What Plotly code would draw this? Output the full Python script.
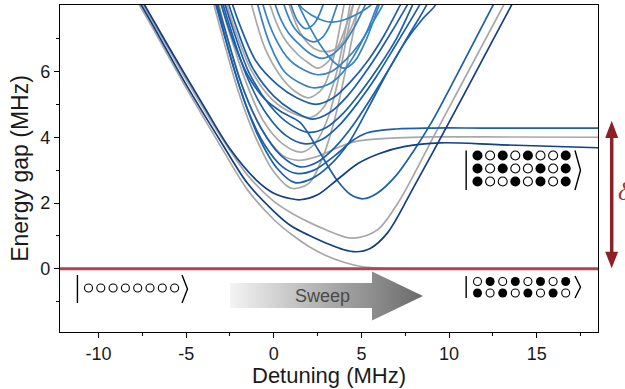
import plotly.graph_objects as go

# ---------------------------------------------------------------------------
# Spectrum of the lowest excitation gaps vs. detuning (MHz)
# each curve: (detuning points, gap points)
# ---------------------------------------------------------------------------

# single-excitation branch entering from the upper left
bundle_gray = [
    ([-8.3, -7.0, -5.0, -3.0, -1.5, 0.0, 1.0, 2.0, 3.0, 4.0, 5.0, 6.0, 7.5, 10.0, 18.5],
     [8.6, 7.4, 5.5, 3.7, 2.4, 1.5, 1.05, 0.68, 0.4, 0.2, 0.07, 0.02, 0.0, 0.0, 0.0]),
    ([-8.1, -7.0, -5.0, -3.0, -1.5, 0.0, 1.0, 2.0, 3.0, 4.3, 5.2, 6.0, 7.2, 9.0, 11.0, 13.6],
     [8.6, 7.6, 5.75, 4.0, 2.85, 2.05, 1.7, 1.42, 1.18, 0.94, 1.0, 1.22, 2.1, 3.9, 5.9, 8.5]),
]
bundle_blue = [
    ([-8.2, -7.0, -5.0, -3.0, -1.5, 0.0, 1.0, 2.0, 3.0, 4.0, 4.7, 5.5, 6.5, 8.0, 10.0, 12.0, 14.0],
     [8.6, 7.5, 5.6, 3.85, 2.6, 1.75, 1.3, 1.02, 0.78, 0.58, 0.52, 0.62, 1.1, 2.5, 4.45, 6.45, 8.45]),
    ([-8.0, -6.0, -4.0, -2.5, -1.0, 0.0, 1.0, 1.5, 2.5, 3.6, 4.8, 6.0, 7.5, 9.5, 13.0, 18.5],
     [8.6, 6.75, 4.95, 3.65, 2.7, 2.3, 2.13, 2.1, 2.25, 2.7, 3.2, 3.5, 3.72, 3.83, 3.77, 3.68]),
]

# lower part of the multi-excitation manifold
manifold_blue = [
    # dips to 2.1 near 5 MHz, then climbs steeply
    ([-3.3, -2.5, -1.5, -0.5, 0.5, 1.5, 2.5, 3.6, 4.4, 5.1, 5.9, 7.0, 8.0, 9.0, 10.5, 12.5, 13.2],
     [8.6, 7.2, 5.9, 5.15, 4.75, 4.45, 3.65, 2.7, 2.25, 2.13, 2.3, 2.85, 3.6, 4.45, 5.95, 8.0, 8.7]),
    # levels off at 4.3 MHz
    ([-3.5, -2.5, -1.5, -0.5, 0.5, 1.3, 2.3, 3.5, 4.5, 5.3, 7.0, 9.0, 12.0, 18.5],
     [8.6, 6.5, 4.85, 3.75, 3.1, 2.9, 3.0, 3.45, 3.9, 4.13, 4.25, 4.28, 4.28, 4.28]),
    ([-3.6, -2.9, -1.9, -0.9, 0.2, 1.2, 2.2, 3.2, 4.3, 5.3, 6.4, 7.5, 8.5, 9.2, 9.6],
     [8.6, 7.25, 5.45, 4.05, 3.05, 2.62, 2.75, 3.15, 3.85, 4.8, 5.9, 6.9, 7.6, 8.0, 8.5]),
    ([-3.5, -2.8, -1.8, -0.7, 0.4, 1.5, 2.5, 3.5, 4.5, 5.5, 6.6, 7.7, 8.7, 9.1],
     [8.6, 7.3, 5.55, 4.25, 3.45, 3.1, 3.25, 3.7, 4.35, 5.15, 6.1, 7.1, 8.0, 8.5]),
    ([-3.2, -2.5, -1.5, -0.4, 0.7, 1.8, 2.8, 3.8, 4.8, 5.8, 6.9, 8.3, 8.7],
     [8.6, 7.35, 5.8, 4.7, 4.05, 3.8, 3.95, 4.4, 5.05, 5.8, 6.75, 8.0, 8.4]),
    ([-3.1, -2.4, -1.4, -0.2, 0.9, 2.0, 3.0, 4.0, 5.0, 6.0, 7.0, 7.9, 8.3],
     [8.6, 7.4, 5.95, 4.95, 4.4, 4.15, 4.3, 4.75, 5.4, 6.15, 7.0, 8.0, 8.5]),
    ([-2.9, -2.2, -1.2, 0.0, 1.1, 2.2, 3.2, 4.2, 5.2, 6.2, 7.6, 8.0],
     [8.6, 7.45, 6.1, 5.25, 4.8, 4.55, 4.75, 5.25, 5.95, 6.75, 8.0, 8.4]),
    ([-2.7, -2.0, -1.0, 0.2, 1.3, 2.4, 3.4, 4.4, 5.4, 6.3, 7.2, 7.6],
     [8.6, 7.5, 6.3, 5.6, 5.2, 5.0, 5.2, 5.7, 6.35, 7.1, 8.0, 8.4]),
]
manifold_gray = [
    # levels off at 4.0 MHz
    ([-3.4, -2.4, -1.4, -0.4, 0.5, 1.4, 2.5, 3.5, 4.5, 5.3, 7.0, 9.0, 12.0, 18.5],
     [8.6, 6.55, 5.0, 4.0, 3.45, 3.3, 3.42, 3.65, 3.85, 3.92, 3.98, 4.01, 4.01, 4.0]),
    ([-3.7, -3.0, -2.0, -1.0, 0.0, 1.0, 2.0, 2.8, 3.5, 4.2, 4.8],
     [8.6, 7.2, 5.35, 3.95, 2.95, 2.45, 2.6, 3.4, 4.6, 6.3, 7.9]),
    ([-3.3, -2.6, -1.6, -0.6, 0.5, 1.6, 2.4, 3.1, 3.7, 4.4, 4.8],
     [8.6, 7.3, 5.7, 4.5, 3.8, 3.55, 3.85, 4.6, 5.8, 7.7, 8.6]),
    ([-3.0, -2.3, -1.3, -0.1, 1.0, 2.1, 2.9, 3.5, 4.0, 4.4],
     [8.6, 7.4, 6.05, 5.15, 4.75, 4.6, 4.95, 5.8, 7.0, 8.2]),
]

# upper part of the manifold (small arcs near the top)
upper_blue = [
    ([-1.1, -0.9, -0.2, 0.6, 1.5, 2.3, 3.1, 3.9, 4.6, 5.3, 5.9, 6.2],
     [8.5, 8.0, 6.8, 6.0, 5.65, 5.5, 5.6, 5.95, 6.5, 7.2, 8.0, 8.4]),
    ([-0.8, -0.6, 0.1, 0.9, 1.7, 2.5, 3.3, 4.1, 4.9, 5.6, 6.2, 6.5],
     [8.5, 8.0, 7.0, 6.35, 6.05, 5.9, 6.0, 6.35, 6.85, 7.45, 8.0, 8.4]),
    ([-0.1, 0.1, 0.8, 1.6, 2.2, 2.7, 3.3, 4.0, 4.6, 5.2, 5.5],
     [8.5, 8.0, 7.2, 6.75, 6.5, 6.4, 6.5, 6.85, 7.35, 8.0, 8.4]),
    ([0.4, 0.6, 1.2, 1.8, 2.3, 2.8, 3.2, 3.6, 3.9],
     [8.5, 8.0, 7.3, 7.0, 6.9, 7.05, 7.4, 8.0, 8.5]),
    ([0.8, 1.0, 1.4, 1.8, 2.3, 2.8, 3.0],
     [8.5, 8.0, 7.5, 7.3, 7.45, 8.0, 8.4]),
    ([1.3, 1.5, 2.2, 2.8, 3.3, 3.9, 4.6, 5.5, 5.8],
     [8.5, 8.0, 7.7, 7.55, 7.5, 7.55, 7.7, 8.0, 8.2]),
    ([1.0, 1.8, 2.6, 3.4, 4.0, 4.6, 5.3, 6.0, 6.3],
     [8.5, 7.6, 6.85, 6.3, 6.1, 6.3, 7.0, 8.0, 8.4]),
]
upper_gray = [
    ([-1.5, -1.25, -0.5, 0.4, 1.2, 2.0, 2.8, 3.4, 4.0, 4.3],
     [8.6, 8.0, 6.7, 5.85, 5.4, 5.2, 5.5, 6.4, 8.0, 8.8]),
    ([-0.4, -0.2, 0.6, 1.4, 2.0, 2.5, 3.1, 3.7, 4.2, 4.5, 4.8],
     [8.5, 8.0, 7.0, 6.5, 6.25, 6.1, 6.3, 6.8, 7.5, 8.0, 8.5]),
    ([0.7, 0.9, 1.6, 2.3, 3.0, 3.7, 4.3, 4.9, 5.2],
     [8.5, 8.0, 7.1, 6.7, 6.6, 6.75, 7.2, 8.0, 8.4]),
]

# axes
x_range = [-12.2, 18.5]
y_range = [-1.92, 8.02]
x_ticks = [-10, -5, 0, 5, 10, 15]
x_ticktext = ["-10", "-5", "0", "5", "10", "15"]
x_minor = [-7.5, -2.5, 2.5, 7.5, 12.5, 17.5]
y_ticks = [0, 2, 4, 6]
y_minor = [-1, 1, 3, 5, 7]

# product-state labels (1 = Rydberg, 0 = ground)
ket_initial = ["00000000"]
ket_defects = ["10101001", "10100101", "10010101"]
ket_neel = ["01010101", "10101010"]

GRAY = "#a8a8a8"
NAVY = "#123f86"
BLUE = "#1d5ea8"
LIGHT = "#3682c4"
RED = "#b3434e"
DARK_RED = "#8c2126"
FONT = "Liberation Sans, Arial, Helvetica, sans-serif"

fig = go.Figure()


def add_curves(curves, color, width=1.7):
    for xs, ys in curves:
        fig.add_trace(go.Scatter(x=xs, y=ys, mode="lines",
                                 line=dict(color=color, width=width, shape="spline", smoothing=0.9),
                                 hoverinfo="skip", showlegend=False))


add_curves(upper_gray, GRAY)
add_curves(manifold_gray, GRAY)
add_curves(bundle_gray, GRAY)
add_curves(upper_blue, LIGHT)
add_curves(manifold_blue, BLUE)
add_curves(bundle_blue, NAVY)

# ground-state reference line
fig.add_shape(type="line", xref="paper", yref="y", x0=0, x1=1, y0=0, y1=0,
              line=dict(color=RED, width=3))

# ---- decorations drawn on a pixel-like overlay frame ----
XO = "x2"
YO = "y2"

# sweep arrow with gradient fill
arrow_x = [230, 372, 372, 423, 372, 372, 230, 230]
arrow_y = [283, 283, 271.5, 296, 320.5, 308, 308, 283]
fig.add_trace(go.Scatter(x=arrow_x, y=arrow_y, xaxis=XO, yaxis=YO, mode="lines",
                         line=dict(width=0), fill="toself",
                         fillgradient=dict(type="horizontal",
                                           colorscale=[[0, "#f4f4f4"], [0.45, "#b4b4b4"], [1, "#6a6a6a"]]),
                         hoverinfo="skip", showlegend=False))
fig.add_annotation(x=322, y=296, xref=XO, yref=YO, text="Sweep", showarrow=False,
                   font=dict(family=FONT, size=18, color="#4a4a4a"))


def add_ket(rows, x_first, pitch, y_rows, size, bar_top, bar_bottom, bracket_x):
    xs_f, ys_f, xs_o, ys_o = [], [], [], []
    for row, yy in zip(rows, y_rows):
        for i, c in enumerate(row):
            if c == "1":
                xs_f.append(x_first + i * pitch)
                ys_f.append(yy)
            else:
                xs_o.append(x_first + i * pitch)
                ys_o.append(yy)
    if xs_f:
        fig.add_trace(go.Scatter(x=xs_f, y=ys_f, xaxis=XO, yaxis=YO, mode="markers",
                                 marker=dict(symbol="circle", size=size, color="black"),
                                 hoverinfo="skip", showlegend=False))
    fig.add_trace(go.Scatter(x=xs_o, y=ys_o, xaxis=XO, yaxis=YO, mode="markers",
                             marker=dict(symbol="circle-open", size=size - 1, color="black",
                                         line=dict(width=1.1)),
                             hoverinfo="skip", showlegend=False))
    bar_x = x_first - pitch * 0.9
    mid = (bar_top + bar_bottom) / 2
    fig.add_trace(go.Scatter(x=[bar_x, bar_x, None, bracket_x, bracket_x + 5.5, bracket_x],
                             y=[bar_top, bar_bottom, None, bar_top, mid, bar_bottom],
                             xaxis=XO, yaxis=YO, mode="lines",
                             line=dict(color="black", width=1.4),
                             hoverinfo="skip", showlegend=False))


add_ket(ket_initial, 88.5, 12.3, [288], 9, 275, 303, 182)
add_ket(ket_defects, 477.5, 12.6, [155.5, 168.5, 181.5], 10, 150.5, 190, 575)
add_ket(ket_neel, 477.5, 12.6, [281.5, 293], 9, 276, 298, 575)

# gap arrow on the right (outside the frame)
ax_p = (611.7 - 60) / 538.0
hw = 6.5 / 538.0
fig.add_shape(type="line", xref="paper", yref="y", x0=ax_p, x1=ax_p, y0=0.45, y1=4.05,
              line=dict(color=DARK_RED, width=3.5))
fig.add_shape(type="path", xref="paper", yref="y",
              path=f"M {ax_p - hw} 3.98 L {ax_p} 4.5 L {ax_p + hw} 3.98 Z",
              fillcolor=DARK_RED, line=dict(color=DARK_RED, width=0))
fig.add_shape(type="path", xref="paper", yref="y",
              path=f"M {ax_p - hw} 0.52 L {ax_p} 0.02 L {ax_p + hw} 0.52 Z",
              fillcolor=DARK_RED, line=dict(color=DARK_RED, width=0))
fig.add_annotation(x=(615.5 - 60) / 538.0, y=2.35, xref="paper", yref="y", text="<i>δ</i>",
                   showarrow=False, xanchor="left",
                   font=dict(family="Liberation Serif, Times New Roman, serif", size=26, color="#a83333"))

# x-axis title placed just under the tick labels
fig.add_annotation(x=0.5, y=-(375.5 - 332) / 327.0, xref="paper", yref="paper",
                   text="Detuning (MHz)", showarrow=False, yanchor="middle",
                   font=dict(family=FONT, size=22, color="#1a1a1a"))

axis_common = dict(showline=True, linecolor="black", linewidth=1.3, mirror=True,
                   ticks="outside", ticklen=5, tickwidth=1.2, tickcolor="black",
                   showgrid=False, zeroline=False,
                   tickfont=dict(family=FONT, size=18, color="#1a1a1a"))

fig.update_layout(
    width=625, height=389, autosize=False,
    margin=dict(l=60, r=27, t=5, b=57),
    plot_bgcolor="white", paper_bgcolor="white",
    xaxis=dict(range=x_range, tickvals=x_ticks, ticktext=x_ticktext,
               minor=dict(tickvals=x_minor, ticklen=3, ticks="outside", tickcolor="black"),
               **axis_common),
    yaxis=dict(range=y_range, tickvals=y_ticks,
               minor=dict(tickvals=y_minor, ticklen=3, ticks="outside", tickcolor="black"),
               title=dict(text="Energy gap (MHz)", standoff=5,
                          font=dict(family=FONT, size=23, color="#1a1a1a")),
               **axis_common),
    xaxis2=dict(range=[60, 598], overlaying="x", anchor="y2", visible=False, fixedrange=True),
    yaxis2=dict(range=[332, 5], overlaying="y", anchor="x2", visible=False, fixedrange=True),
)

fig.write_html("out.html")
